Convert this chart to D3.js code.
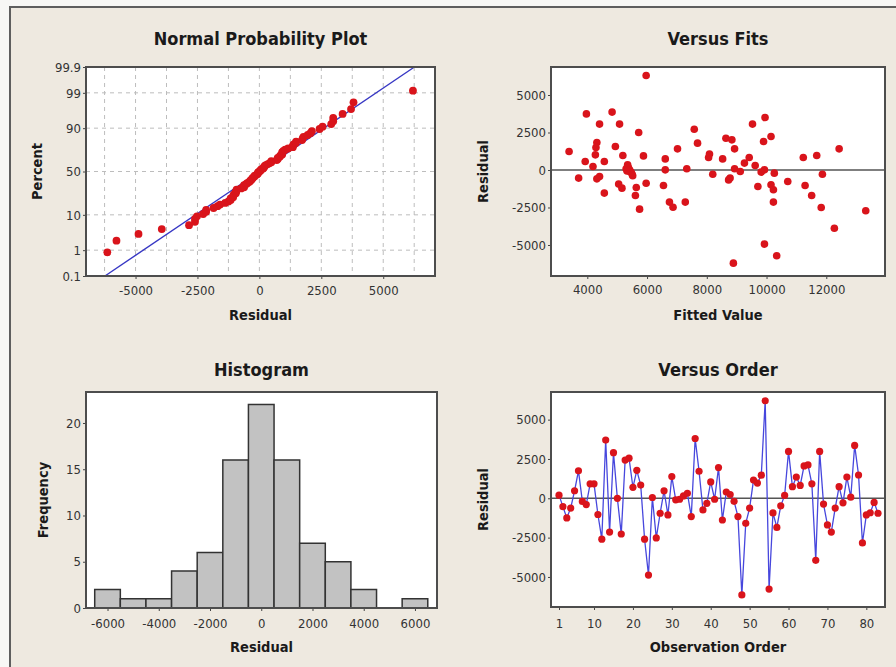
<!DOCTYPE html>
<html lang="en">
<head>
  <meta charset="UTF-8">
  <title>Residual Plots</title>
  <style>
    body { margin: 0; background: #f7f7f5; }
    svg { display: block; }
  </style>
</head>
<body>
  <svg width="896" height="667" id="chart"></svg>
  <script src="https://cdn.jsdelivr.net/npm/d3@7"></script>
  <script>
    // residuals in observation order
    const residuals = [
      200, -530, -1250, -620, 480, 1750, -200, -400, 920, 920,
      -1030, -2600, 3700, -2150, 2900, 0, -2270, 2430, 2550, 700,
      1780, 840, -2600, -4880, 50, -2520, -950, 480, -1060, 1380,
      -100, -60, 150, 320, -1160, 3800, 1720, -740, -320, 1040,
      -60, 1950, -1380, 400, 240, -190, -1160, -6140, -1590, -620,
      1160, 970, 1470, 6200, -5770, -930, -1850, -480, 180, 2980,
      740, 1350, 820, 2060, 2120, 920, -3940, 2980, -370, -1690,
      -2150, -620, 740, -290, 1350, 70, 3360, 1480, -2840, -1060,
      -920, -260, -950
    ];

    // Versus Fits points
    const fittedValues = [
      5970, 3970, 4830, 4410, 5080, 5720, 3390, 4320, 4290, 4270,
      4940, 3930, 4190, 4570, 5190, 5880, 5350, 5300, 5420, 5500,
      3710, 4410, 4320, 5050, 5160, 4570, 5640, 5610, 5750, 5970,
      6610, 6610, 6550, 6750, 6870, 7280, 7020, 7330, 7580, 7690,
      8090, 8060, 8200, 9950, 9530, 10150, 8640, 8840, 9900, 8930,
      12430, 8530, 9420, 11230, 11680, 9260, 9620, 9930, 8930, 9120,
      8780, 8730, 9820, 10260, 11870, 10710, 9710, 10150, 10230, 11290,
      11510, 10230, 11830, 13320, 12270, 9930, 10340, 8890, 5380, 5420,
      5470, 5520, 5330
    ];
    const fitResiduals = [
      6300, 3740, 3860, 3060, 3060, 2500, 1230, 1830, 1500, 1010,
      1570, 570, 230, 570, 970, 940, 340, 80, -100, -280,
      -540, -430, -590, -940, -1210, -1540, -1170, -1700, -2610, -880,
      740, 10, -1030, -2140, -2480, -2140, 1410, 80, 2720, 1790,
      1060, 830, -280, 3500, 3060, 2230, 2120, 2010, 1900, 1410,
      1410, 740, 830, 830, 970, 460, 300, 10, 80, -100,
      -540, -660, -140, -210, -280, -770, -1100, -990, -1320, -1030,
      -1700, -2140, -2500, -2720, -3880, -4940, -5720, -6210, 150, 0,
      -150, -380, -60
    ];

    // histogram
    const histMid = [-6000, -5000, -4000, -3000, -2000, -1000, 0, 1000, 2000, 3000, 4000, 5000, 6000];
    const histCount = [2, 1, 1, 4, 6, 16, 22, 16, 7, 5, 2, 0, 1];

    // tick labels
    const pctTicks = [0.1, 1, 10, 50, 90, 99, 99.9];
    const pctGrid = [1, 10, 50, 90, 99];
    const nppXTicks = [-5000, -2500, 0, 2500, 5000];
    const nppXGrid = [-6250, -5000, -3750, -2500, -1250, 0, 1250, 2500, 3750, 5000, 6250];
    const resTicks = [-5000, -2500, 0, 2500, 5000];
    const fitTicks = [4000, 6000, 8000, 10000, 12000];
    const histXTicks = [-6000, -4000, -2000, 0, 2000, 4000, 6000];
    const histYTicks = [0, 5, 10, 15, 20];
    const orderTicks = [1, 10, 20, 30, 40, 50, 60, 70, 80];

    const FONT = '"DejaVu Sans Condensed", "DejaVu Sans", sans-serif';
    const RED = '#d9141b';

    // inverse normal cdf (Acklam)
    function probit(p) {
      const a = [-39.69683028665376, 220.9460984245205, -275.9285104469687, 138.3577518672690, -30.66479806614716, 2.506628277459239];
      const b = [-54.47609879822406, 161.5858368580409, -155.6989798598866, 66.80131188771972, -13.28068155288572];
      const c = [-0.007784894002430293, -0.3223964580411365, -2.400758277161838, -2.549732539343734, 4.374664141464968, 2.938163982698783];
      const d = [0.007784695709041462, 0.3224671290700398, 2.445134137142996, 3.754408661907416];
      const lo = 0.02425;
      if (p < lo || p > 1 - lo) {
        let q = Math.sqrt(-2 * Math.log(p < lo ? p : 1 - p));
        let v = (((((c[0] * q + c[1]) * q + c[2]) * q + c[3]) * q + c[4]) * q + c[5]) /
                ((((d[0] * q + d[1]) * q + d[2]) * q + d[3]) * q + 1);
        return p < lo ? v : -v;
      }
      let q = p - 0.5, r = q * q;
      return (((((a[0] * r + a[1]) * r + a[2]) * r + a[3]) * r + a[4]) * r + a[5]) * q /
             (((((b[0] * r + b[1]) * r + b[2]) * r + b[3]) * r + b[4]) * r + 1);
    }

    let svg = d3.select('#chart');

    // background frame
    svg.append('rect').attr('x', 10).attr('y', 7).attr('width', 900).attr('height', 700)
        .attr('fill', '#eee9e0').attr('stroke', '#5e5e5e').attr('stroke-width', 2);

    // panel boxes
    const P1 = {x0: 86, y0: 67, x1: 435, y1: 276};
    const P2 = {x0: 551, y0: 67, x1: 885, y1: 276};
    const P3 = {x0: 86, y0: 392, x1: 437, y1: 608};
    const P4 = {x0: 551, y0: 392, x1: 885, y1: 607};

    function plotBg(p) {
      svg.append('rect').attr('x', p.x0).attr('y', p.y0)
          .attr('width', p.x1 - p.x0).attr('height', p.y1 - p.y0).attr('fill', '#fff');
    }
    function plotBorder(p) {
      svg.append('rect').attr('x', p.x0).attr('y', p.y0)
          .attr('width', p.x1 - p.x0).attr('height', p.y1 - p.y0)
          .attr('fill', 'none').attr('stroke', '#4d4d4d').attr('stroke-width', 2);
    }
    function styleAxis(g) {
      g.select('.domain').remove();
      g.selectAll('line').attr('stroke', '#444');
      g.selectAll('text').attr('font-family', FONT).attr('font-size', 13).attr('fill', '#333');
    }
    function axes(p, x, y, xt, yt, xFmt, yFmt, xPad) {
      let gx = svg.append('g').attr('transform', `translate(0,${p.y1})`)
          .call(d3.axisBottom(x).tickValues(xt).tickFormat(xFmt).tickSize(3).tickPadding(xPad));
      styleAxis(gx);
      let gy = svg.append('g').attr('transform', `translate(${p.x0},0)`)
          .call(d3.axisLeft(y).tickValues(yt).tickFormat(yFmt).tickSize(3).tickPadding(2));
      styleAxis(gy);
    }
    function labels(p, title, xl, yl, titleY, xlY, ylX) {
      let cx = (p.x0 + p.x1) / 2, cy = (p.y0 + p.y1) / 2;
      svg.append('text').attr('x', cx).attr('y', titleY).attr('text-anchor', 'middle')
          .attr('font-family', FONT).attr('font-weight', 'bold').attr('font-size', 18)
          .attr('fill', '#1a1a1a').text(title);
      svg.append('text').attr('x', cx).attr('y', xlY).attr('text-anchor', 'middle')
          .attr('font-family', FONT).attr('font-weight', 'bold').attr('font-size', 14.5)
          .attr('fill', '#1a1a1a').text(xl);
      svg.append('text').attr('transform', `translate(${ylX},${cy}) rotate(-90)`)
          .attr('text-anchor', 'middle')
          .attr('font-family', FONT).attr('font-weight', 'bold').attr('font-size', 14.5)
          .attr('fill', '#1a1a1a').text(yl);
    }
    const str = d => String(d);

    // ---------- Normal Probability Plot ----------
    plotBg(P1);
    let n = residuals.length;
    let sorted = residuals.slice().sort((a, b) => a - b);
    let npp = sorted.map((r, i) => ({r: r, z: probit((i + 1 - 0.3) / (n + 0.4))}));
    let mean = d3.mean(residuals), sd = d3.deviation(residuals);
    let zMax = probit(0.999);

    let x1 = d3.scaleLinear().domain([-7000, 7090]).range([P1.x0, P1.x1]);
    let y1 = d3.scaleLinear().domain([-zMax, zMax]).range([P1.y1, P1.y0]);

    svg.append('g').selectAll('line').data(nppXGrid).join('line')
        .attr('x1', d => x1(d)).attr('x2', d => x1(d))
        .attr('y1', P1.y0).attr('y2', P1.y1)
        .attr('stroke', '#bdbdbd').attr('stroke-dasharray', '4,4');
    svg.append('g').selectAll('line').data(pctGrid).join('line')
        .attr('x1', P1.x0).attr('x2', P1.x1)
        .attr('y1', d => y1(probit(d / 100))).attr('y2', d => y1(probit(d / 100)))
        .attr('stroke', '#bdbdbd').attr('stroke-dasharray', '4,4');

    svg.append('line')
        .attr('x1', x1(mean - zMax * sd)).attr('y1', y1(-zMax))
        .attr('x2', x1(mean + zMax * sd)).attr('y2', y1(zMax))
        .attr('stroke', '#3737c4').attr('stroke-width', 1.4);

    svg.append('g').selectAll('circle').data(npp).join('circle')
        .attr('cx', d => x1(d.r)).attr('cy', d => y1(d.z)).attr('r', 3.9).attr('fill', RED);

    axes(P1, x1, y1, nppXTicks, pctTicks.map(p => probit(p / 100)), str,
        (d, i) => String(pctTicks[i]), 7);
    plotBorder(P1);
    labels(P1, 'Normal Probability Plot', 'Residual', 'Percent', 45, 320, 42);

    // ---------- Versus Fits ----------
    plotBg(P2);
    let x2 = d3.scaleLinear().domain([2785, 13965]).range([P2.x0, P2.x1]);
    let y2 = d3.scaleLinear().domain([-7067, 6867]).range([P2.y1, P2.y0]);
    svg.append('line').attr('x1', P2.x0).attr('x2', P2.x1)
        .attr('y1', y2(0)).attr('y2', y2(0)).attr('stroke', '#555').attr('stroke-width', 1.6);
    svg.append('g').selectAll('circle').data(fittedValues).join('circle')
        .attr('cx', d => x2(d)).attr('cy', (d, i) => y2(fitResiduals[i])).attr('r', 3.8).attr('fill', RED);
    axes(P2, x2, y2, fitTicks, resTicks, str, str, 6);
    plotBorder(P2);
    labels(P2, 'Versus Fits', 'Fitted Value', 'Residual', 45, 320, 488);

    // ---------- Histogram ----------
    plotBg(P3);
    let x3 = d3.scaleLinear().domain([-6840, 6860]).range([P3.x0, P3.x1]);
    let y3 = d3.scaleLinear().domain([0, 23.35]).range([P3.y1, P3.y0]);
    let bins = histMid.map((m, i) => ({m: m, c: histCount[i]}));
    svg.append('g').selectAll('rect').data(bins).join('rect')
        .attr('x', d => x3(d.m - 500)).attr('width', d => x3(d.m + 500) - x3(d.m - 500))
        .attr('y', d => y3(d.c)).attr('height', d => y3(0) - y3(d.c))
        .attr('fill', '#c2c2c2').attr('stroke', '#333').attr('stroke-width', 1.5);
    axes(P3, x3, y3, histXTicks, histYTicks, str, str, 8);
    plotBorder(P3);
    labels(P3, 'Histogram', 'Residual', 'Frequency', 376, 652, 48);

    // ---------- Versus Order ----------
    plotBg(P4);
    let x4 = d3.scaleLinear().domain([-1.06, 84.8]).range([P4.x0, P4.x1]);
    let y4 = d3.scaleLinear().domain([-6910, 6757]).range([P4.y1, P4.y0]);
    svg.append('line').attr('x1', P4.x0).attr('x2', P4.x1)
        .attr('y1', y4(0)).attr('y2', y4(0)).attr('stroke', '#555').attr('stroke-width', 1.6);
    let line = d3.line().x((d, i) => x4(i + 1)).y(d => y4(d));
    svg.append('path').datum(residuals).attr('d', line)
        .attr('fill', 'none').attr('stroke', '#4747dd').attr('stroke-width', 1.3);
    svg.append('g').selectAll('circle').data(residuals).join('circle')
        .attr('cx', (d, i) => x4(i + 1)).attr('cy', d => y4(d)).attr('r', 3.6).attr('fill', RED);
    axes(P4, x4, y4, orderTicks, resTicks, str, str, 9);
    plotBorder(P4);
    labels(P4, 'Versus Order', 'Observation Order', 'Residual', 376, 652, 488);
  </script>
</body>
</html>
